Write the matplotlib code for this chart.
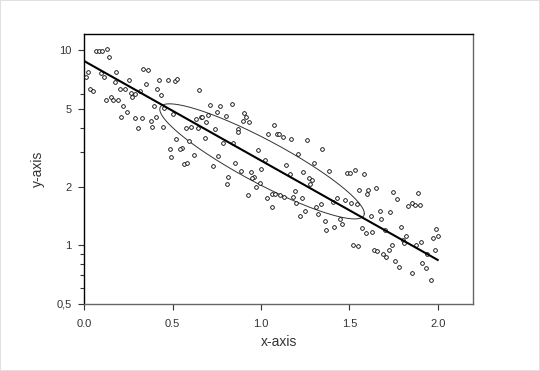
import matplotlib
matplotlib.use("Agg")
import matplotlib.pyplot as plt
import numpy as np

plt.rcParams["font.family"] = ["Liberation Sans", "DejaVu Sans"]

# points (x, y on log scale)
x_vals = [0.011, 0.021, 0.031, 0.049, 0.068, 0.083, 0.102, 0.130, 0.140, 0.093,
          0.111, 0.121, 0.149, 0.162, 0.191, 0.179, 0.172, 0.200, 0.228, 0.219,
          0.209, 0.243, 0.251, 0.262, 0.270, 0.288, 0.313, 0.285, 0.304, 0.326,
          0.332, 0.360, 0.351, 0.376, 0.383, 0.394, 0.404, 0.411, 0.423, 0.432,
          0.443, 0.451, 0.473, 0.511, 0.526, 0.520, 0.483, 0.492, 0.650, 0.711,
          0.767, 0.834, 0.749, 0.801, 0.658, 0.667, 0.698, 0.632, 0.688, 0.503,
          0.903, 0.914, 0.896, 0.933, 0.573, 0.602, 0.641, 0.739, 0.871, 0.871,
          0.592, 0.683, 0.783, 0.551, 0.541, 0.620, 0.758, 0.984, 1.041, 0.843,
          0.564, 0.579, 0.730, 0.852, 0.814, 0.809, 0.885, 0.941, 0.960, 0.952,
          0.994, 0.971, 0.924, 1.003, 1.022, 1.032, 1.073, 1.092, 1.101, 1.122,
          1.169, 1.258, 1.348, 1.210, 1.141, 1.299, 1.239, 1.163, 1.384, 1.484,
          1.503, 1.531, 1.273, 1.290, 1.277, 1.192, 1.060, 1.079, 1.107, 1.130,
          1.179, 1.230, 1.431, 1.555, 1.060, 1.201, 1.248, 1.220, 1.311, 1.337,
          1.324, 1.475, 1.512, 1.405, 1.361, 1.412, 1.446, 1.461, 1.367, 1.521,
          1.550, 1.582, 1.606, 1.601, 1.650, 1.748, 1.889, 1.767, 1.541, 1.833,
          1.852, 1.870, 1.899, 1.673, 1.729, 1.620, 1.682, 1.569, 1.790, 1.993,
          1.593, 1.631, 1.701, 1.820, 1.804, 1.810, 2.002, 1.971, 1.908, 1.876,
          1.739, 1.639, 1.657, 1.725, 1.688, 1.710, 1.984, 1.937, 1.914, 1.933,
          1.757, 1.780, 1.857, 1.961]
y_vals = [7.25, 7.75, 6.31, 6.15, 9.93, 9.93, 9.93, 10.1, 9.25, 7.60,
          7.33, 5.57, 5.73, 5.57, 5.57, 7.75, 6.89, 6.31, 6.31, 5.19,
          4.52, 4.80, 7.05, 6.03, 5.79, 5.96, 6.20, 4.49, 3.99, 4.47,
          8.06, 7.94, 6.70, 4.32, 4.02, 5.19, 4.56, 6.31, 7.05, 5.91,
          4.02, 5.05, 7.02, 6.97, 7.11, 3.49, 3.10, 2.84, 6.24, 5.23,
          5.17, 5.32, 4.82, 4.59, 4.54, 4.54, 4.63, 4.42, 4.30, 4.69,
          4.74, 4.56, 4.36, 4.30, 4.01, 4.03, 4.01, 3.96, 3.93, 3.82,
          3.42, 3.53, 3.33, 3.16, 3.13, 2.90, 2.87, 3.08, 3.74, 3.33,
          2.60, 2.65, 2.55, 2.63, 2.25, 2.07, 2.39, 2.37, 2.25, 2.20,
          2.09, 1.99, 1.81, 2.47, 2.73, 1.75, 4.13, 3.73, 3.73, 3.59,
          3.49, 3.46, 3.10, 2.95, 2.58, 2.63, 2.37, 2.31, 2.40, 2.34,
          2.34, 2.42, 2.20, 2.16, 2.05, 1.90, 1.82, 1.84, 1.80, 1.77,
          1.77, 1.75, 1.75, 1.92, 1.57, 1.64, 1.50, 1.41, 1.57, 1.63,
          1.45, 1.71, 1.64, 1.67, 1.33, 1.24, 1.37, 1.28, 1.20, 1.00,
          0.99, 2.31, 1.92, 1.82, 1.96, 1.88, 1.85, 1.72, 1.63, 1.58,
          1.64, 1.61, 1.60, 1.50, 1.48, 1.41, 1.36, 1.23, 1.24, 1.21,
          1.15, 1.17, 1.20, 1.12, 1.06, 1.03, 1.12, 1.09, 1.04, 1.00,
          1.00, 0.95, 0.93, 0.94, 0.90, 0.87, 0.94, 0.90, 0.81, 0.76,
          0.83, 0.77, 0.72, 0.66]

# fitted trend line, end values
line_x = [0.0, 2.0]
line_y = [8.8, 0.84]

y_ticks = [0.5, 1, 2, 5, 10]
y_ticklabels = ["0,5", "1", "2", "5", "10"]
y_minor = [0.6, 0.7, 0.8, 0.9, 3, 4, 6]
x_ticks = [0.0, 0.5, 1.0, 1.5, 2.0]

x = np.array(x_vals)
ly = np.log10(np.array(y_vals))

# 1-sd covariance ellipse in (x, log y)
cov = np.cov(x, ly)
L = np.linalg.cholesky(cov)
t = np.linspace(0, 2 * np.pi, 300)
circ = np.vstack([np.cos(t), np.sin(t)])
ell = L @ circ + np.array([[x.mean()], [ly.mean()]])

fig = plt.figure(figsize=(5.4, 3.71), dpi=100)
fig.patch.set_edgecolor("#e0e0e0")
fig.patch.set_linewidth(1.2)
ax = fig.add_axes([0.156, 0.181, 0.720, 0.727])

ax.scatter(x, y_vals, s=7, facecolors="white", edgecolors="black", linewidths=0.6, zorder=3)
ax.plot(line_x, line_y, color="black", lw=1.5, zorder=4)
ax.plot(ell[0], 10 ** ell[1], color="#333333", lw=0.7, zorder=2)

ax.set_yscale("log")
ax.set_xlim(0, 2.2)
ax.set_ylim(0.5, 12.1)
ax.set_yticks(y_ticks)
ax.set_yticklabels(y_ticklabels)
ax.set_yticks(y_minor, minor=True)
ax.set_yticklabels([], minor=True)
ax.set_xticks(x_ticks)
ax.set_xticklabels([f"{v:.1f}" for v in x_ticks])

ax.tick_params(axis="both", which="major", labelsize=8, length=4, width=0.8,
               colors="#333333", pad=5)
ax.tick_params(axis="x", which="major", pad=7)
ax.tick_params(axis="y", which="minor", length=3, width=0.8, colors="#333333")
for s in ["left", "top"]:
    ax.spines[s].set_color("black")
for s in ["right", "bottom"]:
    ax.spines[s].set_color("#666666")
for s in ax.spines.values():
    s.set_linewidth(1.0)

ax.set_xlabel("x-axis", fontsize=10, color="#333333", labelpad=4)
ax.set_ylabel("y-axis", fontsize=10, color="#333333", labelpad=8)

fig.savefig("out.png", dpi=100)
